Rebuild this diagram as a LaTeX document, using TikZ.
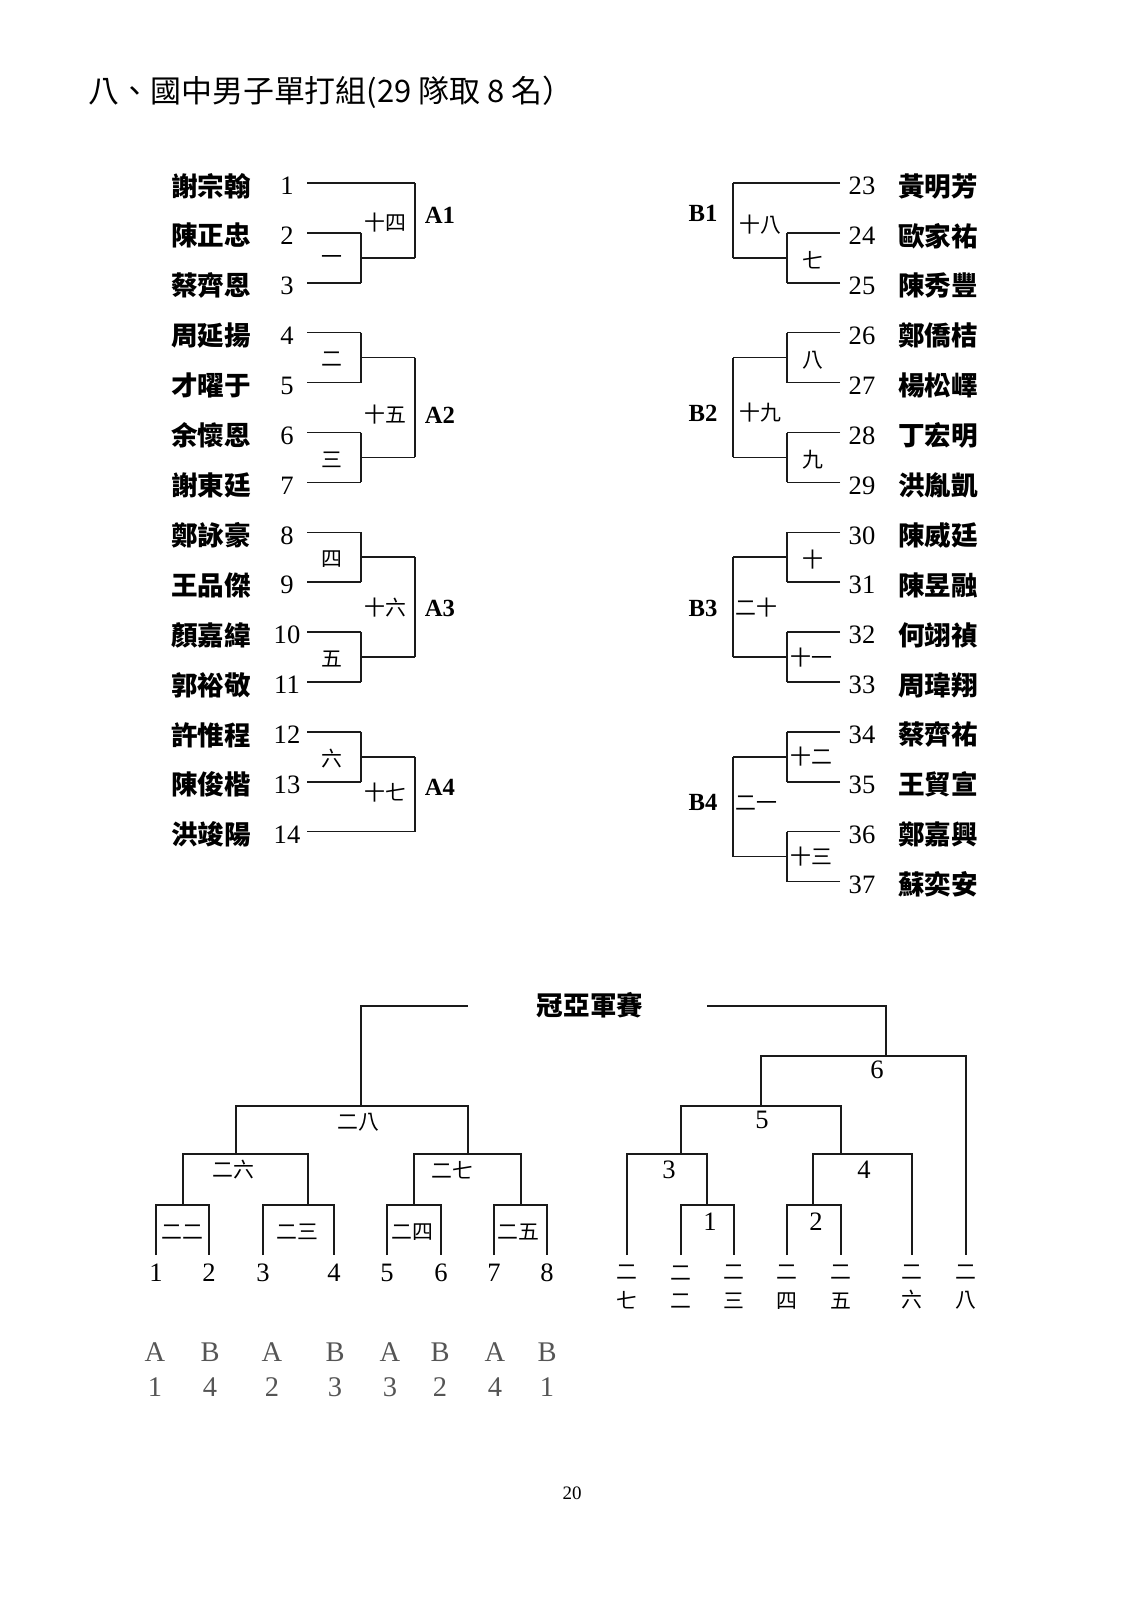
\documentclass[tikz,border=0pt]{standalone}
\usepackage{fontspec}
\usepackage{tikz}
\usetikzlibrary{calc}
\setmainfont{Liberation Serif}
\newfontfamily\cjk{Noto Sans CJK TC}
\definecolor{drawblack}{HTML}{1A1A1A}
\definecolor{labelgray}{HTML}{555555}
\tikzset{
  bracket/.style={draw=drawblack,line width=0.8pt},
  player/.style={font=\cjk\bfseries\fontsize{14}{14}\selectfont,inner sep=0pt},
  seed/.style={font=\fontsize{14}{14}\selectfont,inner sep=0pt},
  game/.style={font=\cjk\fontsize{11}{11}\selectfont,inner sep=0pt},
  pool/.style={font=\bfseries\fontsize{13}{13}\selectfont,inner sep=0pt},
  slot/.style={font=\fontsize{15}{15}\selectfont,text=labelgray,inner sep=0pt}
}

\begin{document}
\begin{tikzpicture}[x=0.5268pt,y=-0.5268pt]
  \useasboundingbox (0,0) rectangle (1130,1600);
  \node[font=\cjk\fontsize{16.3}{16.3}\selectfont,anchor=west,inner sep=0pt] (title) at (88,92) {八、國中男子單打組(29 隊取 8 名）};

  \foreach \n/\who/\ex in {1/謝宗翰/415,2/陳正忠/361,3/蔡齊恩/361,4/周延揚/361,5/才曜于/361,
      6/余懷恩/361,7/謝東廷/361,8/鄭詠豪/361,9/王品傑/361,10/顏嘉緯/361,11/郭裕敬/361,
      12/許惟程/361,13/陳俊楷/361,14/洪竣陽/415} {
    \pgfmathsetmacro\yy{183+(\n-1)*49.9}
    \node[player] (name\n) at (211,\yy+3) {\who};
    \node[seed] (num\n) at (287,\yy+3) {\n};
    \coordinate (p\n) at (307,\yy);
    \coordinate (q\n) at (\ex,\yy);
    \draw[bracket] (p\n) -- (q\n);
  }
  \foreach \a/\b/\lab/\k in {2/3/一/1,4/5/二/2,6/7/三/3,8/9/四/4,10/11/五/5,12/13/六/6} {
    \coordinate (v\k) at ($(q\a)!0.5!(q\b)$);
    \coordinate (w\k) at ($(v\k)+(54,0)$);
    \draw[bracket] (q\a) -- (q\b) (v\k) -- (w\k);
    \node[game] (g\k) at ($(v\k)+(-29,2)$) {\lab};
  }
  \draw[bracket] (q1) -- (w1) (w2) -- (w3) (w4) -- (w5) (w6) -- (q14);
  \node[game] (g14) at (385,223) {十四};
  \node[game] (g15) at (385,415) {十五};
  \node[game] (g16) at (385,608) {十六};
  \node[game] (g17) at (385,793) {十七};
  \node[pool] (A1) at (440,215) {A1};
  \node[pool] (A2) at (440,415) {A2};
  \node[pool] (A3) at (440,608) {A3};
  \node[pool] (A4) at (440,787) {A4};

  \foreach \n/\who/\ex in {23/黃明芳/733,24/歐家祐/787,25/陳秀豐/787,26/鄭僑桔/787,27/楊松嶧/787,
      28/丁宏明/787,29/洪胤凱/787,30/陳威廷/787,31/陳昱融/787,32/何翊禎/787,33/周瑋翔/787,
      34/蔡齊祐/787,35/王貿宣/787,36/鄭嘉興/787,37/蘇奕安/787} {
    \pgfmathsetmacro\yy{183+(\n-23)*49.9}
    \node[player] (name\n) at (938,\yy+3) {\who};
    \node[seed] (num\n) at (862,\yy+3) {\n};
    \coordinate (p\n) at (840,\yy);
    \coordinate (q\n) at (\ex,\yy);
    \draw[bracket] (p\n) -- (q\n);
  }
  \foreach \a/\b/\k in {24/25/7,26/27/8,28/29/9,30/31/10,32/33/11,34/35/12,36/37/13} {
    \coordinate (v\k) at ($(q\a)!0.5!(q\b)$);
    \coordinate (w\k) at ($(v\k)+(-54,0)$);
    \draw[bracket] (q\a) -- (q\b) (v\k) -- (w\k);
  }
  \draw[bracket] (q23) -- (w7) (w8) -- (w9) (w10) -- (w11) (w12) -- (w13);
  \node[game] (g7) at (813,260) {七};
  \node[game] (g8) at (813,360) {八};
  \node[game] (g9) at (813,460) {九};
  \node[game] (g10) at (813,560) {十};
  \node[game,anchor=west] (g11) at (790,658) {十一};
  \node[game,anchor=west] (g12) at (790,757) {十二};
  \node[game,anchor=west] (g13) at (790,857) {十三};
  \node[game] (g18) at (760,225) {十八};
  \node[game] (g19) at (760,413) {十九};
  \node[game] (g20) at (756,608) {二十};
  \node[game] (g21) at (756,803) {二一};
  \node[pool] (B1) at (703,213) {B1};
  \node[pool] (B2) at (703,413) {B2};
  \node[pool] (B3) at (703,608) {B3};
  \node[pool] (B4) at (703,802) {B4};

  \node[player] (final) at (590,1005) {冠亞軍賽};
  \foreach \i/\x in {1/156,2/209,3/263,4/334,5/387,6/441,7/494,8/547} {
    \node[seed] (s\i) at (\x,1273) {\i};
    \coordinate (b\i) at (\x,1255);
  }
  \coordinate (m22) at (183,1205);
  \coordinate (m23) at (308,1205);
  \coordinate (m24) at (414,1205);
  \coordinate (m25) at (521,1205);
  \coordinate (m26) at (236,1154);
  \coordinate (m27) at (468,1154);
  \coordinate (m28) at (361,1106);
  \coordinate (champL) at (468,1006);
  \draw[bracket] (b1) |- (m22) -| (b2);
  \draw[bracket] (b3) |- (m23) -| (b4);
  \draw[bracket] (b5) |- (m24) -| (b6);
  \draw[bracket] (b7) |- (m25) -| (b8);
  \draw[bracket] (m22) |- (m26) -| (m23);
  \draw[bracket] (m24) |- (m27) -| (m25);
  \draw[bracket] (m26) |- (m28) -| (m27);
  \draw[bracket] (m28) |- (champL);
  \node[game] (g22) at (182,1232) {二二};
  \node[game] (g23) at (297,1232) {二三};
  \node[game] (g24) at (412,1232) {二四};
  \node[game] (g25) at (518,1232) {二五};
  \node[game] (g26) at (233,1170) {二六};
  \node[game] (g27) at (452,1170) {二七};
  \node[game] (g28) at (358,1122) {二八};

  \foreach \i/\x/\top/\bot in {1/627/二/七,2/681/二/二,3/734/二/三,4/787/二/四,5/841/二/五,6/912/二/六,7/966/二/八} {
    \node[game,align=center,font=\cjk\fontsize{11}{15}\selectfont] (c\i lab) at (\x,1287) {\top\\\bot};
    \coordinate (c\i) at (\x,1255);
  }
  \coordinate (k1) at (707,1205);
  \coordinate (k2) at (813,1205);
  \coordinate (k3) at (681,1154);
  \coordinate (k4) at (841,1154);
  \coordinate (k5) at (761,1106);
  \coordinate (k6) at (886,1056);
  \coordinate (champR) at (707,1006);
  \draw[bracket] (c2) |- (k1) -| (c3);
  \draw[bracket] (c4) |- (k2) -| (c5);
  \draw[bracket] (c1) |- (k3) -| (k1);
  \draw[bracket] (k2) |- (k4) -| (c6);
  \draw[bracket] (k3) |- (k5) -| (k4);
  \draw[bracket] (k5) |- (k6) -| (c7);
  \draw[bracket] (k6) |- (champR);
  \node[seed] (f1) at (710,1222) {1};
  \node[seed] (f2) at (816,1222) {2};
  \node[seed] (f3) at (669,1170) {3};
  \node[seed] (f4) at (864,1170) {4};
  \node[seed] (f5) at (762,1120) {5};
  \node[seed] (f6) at (877,1070) {6};

  \foreach \i/\x/\grp/\rk in {1/155/A/1,2/210/B/4,3/272/A/2,4/335/B/3,5/390/A/3,6/440/B/2,7/495/A/4,8/547/B/1} {
    \node[slot] (grp\i) at (\x,1352) {\grp};
    \node[slot] (rk\i) at (\x,1387) {\rk};
  }
  \node[font=\fontsize{10}{10}\selectfont,inner sep=0pt] (page) at (572,1493) {20};
\end{tikzpicture}
\end{document}
